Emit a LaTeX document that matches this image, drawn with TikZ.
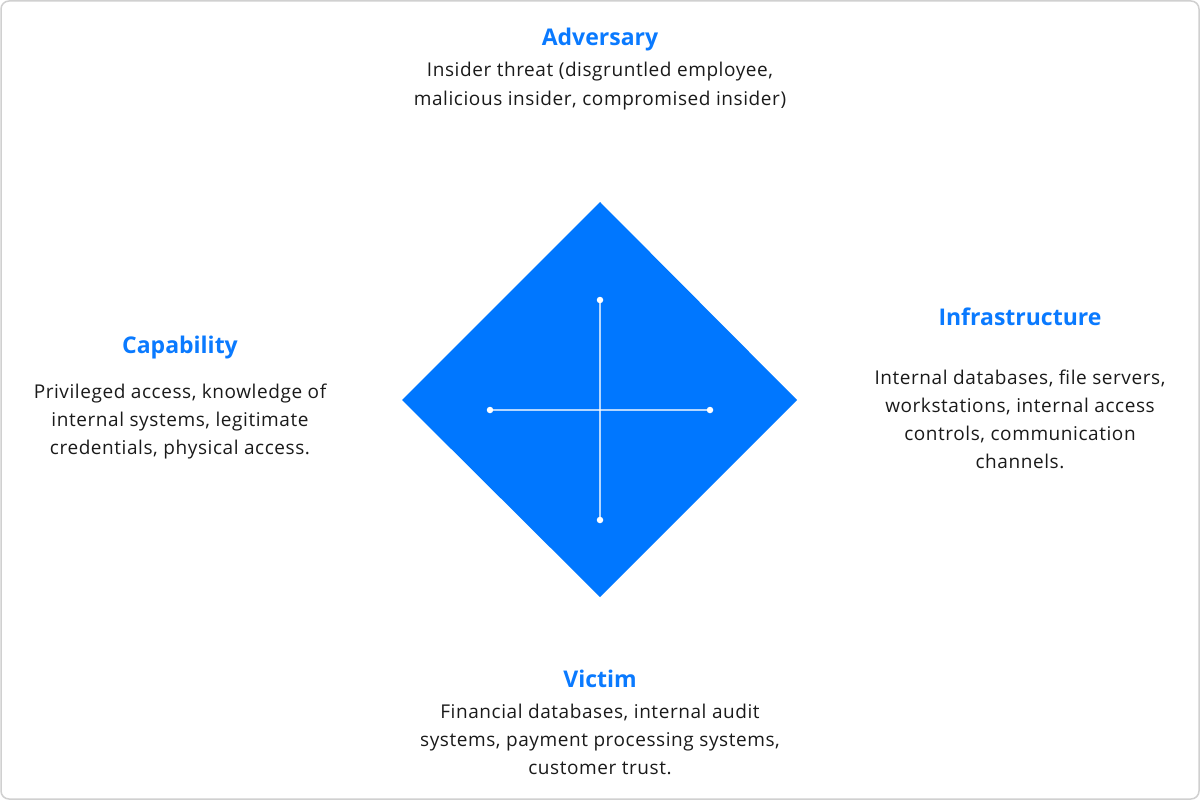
\documentclass[tikz,border=0pt]{standalone}
\usepackage{fontspec}
\setmainfont{Open Sans}
\newfontfamily\bodyfont[LetterSpace=3]{Open Sans}
\definecolor{accent}{HTML}{0A7AFF}
\definecolor{diamondblue}{HTML}{0077FF}
\definecolor{frame}{HTML}{D0D0D0}
\definecolor{bodytext}{HTML}{1A1A1A}
\begin{document}
\begin{tikzpicture}[x=1pt,y=-1pt,
  title/.style={text=accent,font=\fontsize{23}{26}\selectfont\bfseries,inner sep=0pt,anchor=base},
  body/.style={text=bodytext,font=\bodyfont\fontsize{19}{28}\selectfont,inner sep=0pt,align=center,anchor=base},
  axis/.style={white,opacity=0.7,line width=1.8pt},
  endpoint/.style={circle,fill=white,inner sep=0pt,minimum size=6.5pt}]
\useasboundingbox (0,0) rectangle (1200,800);
% outer frame
\draw[frame,line width=1.5pt,rounded corners=8pt] (1,1) rectangle (1199,799);
% central diamond
\fill[diamondblue] (600,202) -- (797,400) -- (600,597) -- (402,400) -- cycle;
% cross with end points
\node[endpoint] (top) at (600,300) {};
\node[endpoint] (bot) at (600,520) {};
\node[endpoint] (lft) at (490,410) {};
\node[endpoint] (rgt) at (710,410) {};
\draw[axis] (top) -- (bot);
\draw[axis] (lft) -- (rgt);
% Adversary
\node[title] (advT) at (600,46) {Adversary};
\node[body] (advB1) at (600,77) {Insider threat (disgruntled employee,};
\node[body] (advB2) at (600,105) {malicious insider, compromised insider)};
% Capability
\node[title] (capT) at (180,353) {Capability};
\node[body] (capB1) at (180,398) {Privileged access, knowledge of};
\node[body] (capB2) at (180,426) {internal systems, legitimate};
\node[body] (capB3) at (180,454) {credentials, physical access.};
% Infrastructure
\node[title] (infT) at (1020,325) {Infrastructure};
\node[body] (infB1) at (1020,384) {Internal databases, file servers,};
\node[body] (infB2) at (1020,412) {workstations, internal access};
\node[body] (infB3) at (1020,440) {controls, communication};
\node[body] (infB4) at (1020,468) {channels.};
% Victim
\node[title] (vicT) at (600,687) {Victim};
\node[body] (vicB1) at (600,718) {Financial databases, internal audit};
\node[body] (vicB2) at (600,746) {systems, payment processing systems,};
\node[body] (vicB3) at (600,774) {customer trust.};
\end{tikzpicture}
\end{document}
